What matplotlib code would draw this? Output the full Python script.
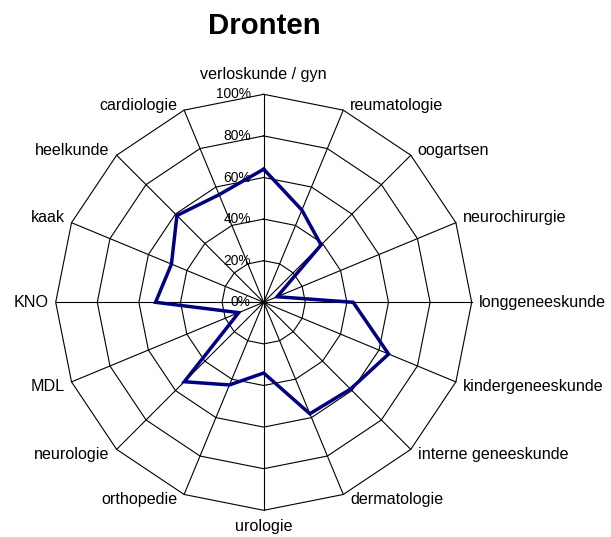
import numpy as np
import matplotlib
matplotlib.use("Agg")
import matplotlib.pyplot as plt

plt.rcParams['font.family'] = ['Liberation Sans', 'DejaVu Sans']

title = "Dronten"
categories = ["verloskunde / gyn", "reumatologie", "oogartsen", "neurochirurgie",
              "longgeneeskunde", "kindergeneeskunde", "interne geneeskunde",
              "dermatologie", "urologie", "orthopedie", "neurologie", "MDL",
              "KNO", "kaak", "heelkunde", "cardiologie"]
values = [64, 48, 39, 7, 43, 65, 59, 58, 34, 43, 54, 13, 52, 48, 59, 56]
ring_levels = [0, 20, 40, 60, 80, 100]
ring_labels = ["0%", "20%", "40%", "60%", "80%", "100%"]

W, H = 611, 537
fig = plt.figure(figsize=(W / 100, H / 100), dpi=100)
cx, cy, R = 263.7, 537 - 302.3, 208.0
ax = fig.add_axes([(cx - R) / W, (cy - R) / H, 2 * R / W, 2 * R / H], projection='polar')
ax.set_theta_zero_location('N')
ax.set_theta_direction(-1)
ax.set_ylim(0, 100)
ax.axis('off')

n = len(categories)
theta = np.arange(n) * 2 * np.pi / n
theta_closed = np.append(theta, theta[0])

# polygon grid rings
for lvl in ring_levels[1:]:
    ax.plot(theta_closed, [lvl] * (n + 1), color='black', lw=0.8, clip_on=False, zorder=1)
# spokes
for t in theta:
    ax.plot([t, t], [0, 100], color='black', lw=0.8, clip_on=False, zorder=1)

# data
vals_closed = values + [values[0]]
ax.plot(theta_closed, vals_closed, color='#000080', lw=2.5, clip_on=False, zorder=3,
        solid_joinstyle='miter')

# ring labels
for lvl, lab in zip(ring_levels, ring_labels):
    ax.annotate(lab, xy=(0, lvl), xytext=(-13, 0), textcoords='offset pixels',
                ha='right', va='center', fontsize=9.9, color='black', zorder=2)

# category labels
for t, lab in zip(theta, categories):
    s, c = np.sin(t), np.cos(t)
    if abs(s) < 0.01:
        ha = 'center'
        dx = 0
        if c > 0:
            va, dy = 'bottom', 12
        else:
            va, dy = 'top', -9
    else:
        ha = 'left' if s > 0 else 'right'
        dx = 7 * np.sign(s)
        va = 'center'
        dy = 0 if abs(c) < 0.01 else 5 * np.sign(c)
    ax.annotate(lab, xy=(t, 100), xytext=(dx, dy), textcoords='offset pixels',
                ha=ha, va=va, fontsize=11.6, color='black', annotation_clip=False)

fig.text(264 / W, 1 - 34 / H, title, ha='center', va='baseline',
         fontsize=21.2, fontweight='bold')

fig.savefig('out.png', dpi=100, facecolor='white')
